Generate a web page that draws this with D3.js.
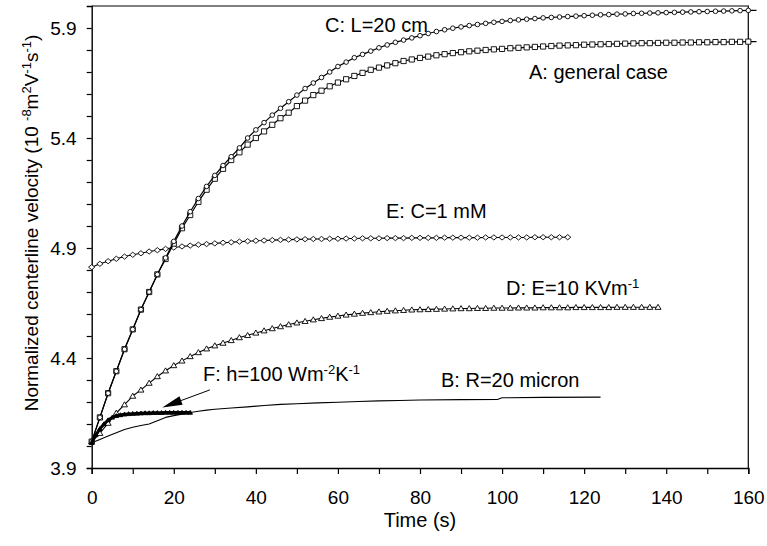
<!DOCTYPE html>
<html>
<head>
<meta charset="utf-8">
<script src="https://cdn.jsdelivr.net/npm/d3@7"></script>
<style>
  body { margin: 0; background: #fff; }
  svg { display: block; }
  text { font-family: "Liberation Sans", Arial, Helvetica, sans-serif; fill: #000; }
</style>
</head>
<body>
<svg id="chart" width="767" height="546"></svg>
<script>
// ---- data (time in s, normalized centerline velocity in 1e-8 m2/(V s)) ----
const timeAC = [0,2,4,6,8,10,12,14,16,18,20,22,24,26,28,30,32,34,36,38,40,42,44,46,48,50,52,54,56,58,60,62,64,66,68,70,72,74,76,78,80,82,84,86,88,90,92,94,96,98,100,102,104,106,108,110,112,114,116,118,120,122,124,126,128,130,132,134,136,138,140,142,144,146,148,150,152,154,156,158,160,162];
// A: general case
const seriesA = [4.02,4.13,4.24,4.34,4.44,4.53,4.62,4.70,4.78,4.85,4.92,4.99,5.05,5.11,5.165,5.215,5.26,5.30,5.335,5.37,5.40,5.43,5.46,5.49,5.515,5.545,5.57,5.595,5.615,5.635,5.652,5.667,5.682,5.696,5.71,5.72,5.73,5.74,5.75,5.757,5.764,5.77,5.776,5.781,5.786,5.79,5.794,5.797,5.80,5.803,5.805,5.808,5.81,5.812,5.814,5.816,5.818,5.82,5.821,5.822,5.824,5.825,5.826,5.827,5.828,5.829,5.83,5.831,5.831,5.832,5.833,5.833,5.834,5.834,5.835,5.835,5.836,5.836,5.837,5.837,5.838,5.838];
// C: L = 20 cm
const seriesC = [4.02,4.13,4.24,4.34,4.44,4.53,4.62,4.70,4.78,4.855,4.93,5.00,5.065,5.125,5.18,5.23,5.275,5.315,5.355,5.40,5.437,5.47,5.504,5.535,5.565,5.595,5.625,5.65,5.675,5.70,5.725,5.745,5.765,5.78,5.795,5.81,5.823,5.835,5.845,5.855,5.865,5.875,5.884,5.892,5.899,5.905,5.911,5.916,5.921,5.926,5.93,5.934,5.937,5.94,5.943,5.946,5.948,5.95,5.952,5.954,5.956,5.958,5.96,5.961,5.963,5.964,5.966,5.967,5.968,5.969,5.97,5.971,5.972,5.973,5.974,5.975,5.976,5.977,5.978,5.979,5.98,5.98];
// E: C = 1 mM
const timeE = [0,2,4,6,8,10,12,14,16,18,20,22,24,26,28,30,32,34,36,38,40,42,44,46,48,50,52,54,56,58,60,62,64,66,68,70,72,74,76,78,80,82,84,86,88,90,92,94,96,98,100,102,104,106,108,110,112,114,116];
const seriesE = [4.813,4.828,4.84,4.851,4.861,4.869,4.876,4.884,4.89,4.896,4.902,4.907,4.911,4.915,4.918,4.921,4.924,4.926,4.929,4.931,4.933,4.934,4.936,4.937,4.938,4.939,4.94,4.941,4.941,4.942,4.942,4.943,4.943,4.944,4.944,4.944,4.945,4.945,4.945,4.946,4.946,4.946,4.946,4.947,4.947,4.947,4.947,4.947,4.948,4.948,4.948,4.948,4.948,4.948,4.949,4.949,4.949,4.949,4.949];
// D: E = 10 kV/m
const timeD = [0,2,4,6,8,10,12,14,16,18,20,22,24,26,28,30,32,34,36,38,40,42,44,46,48,50,52,54,56,58,60,62,64,66,68,70,72,74,76,78,80,82,84,86,88,90,92,94,96,98,100,102,104,106,108,110,112,114,116,118,120,122,124,126,128,130,132,134,136,138];
const seriesD = [4.02,4.058,4.104,4.15,4.188,4.227,4.255,4.286,4.316,4.342,4.366,4.387,4.407,4.425,4.442,4.456,4.468,4.48,4.493,4.503,4.514,4.524,4.534,4.543,4.552,4.56,4.567,4.574,4.58,4.586,4.591,4.596,4.60,4.604,4.607,4.61,4.613,4.615,4.617,4.619,4.62,4.621,4.622,4.623,4.624,4.625,4.625,4.626,4.626,4.627,4.627,4.627,4.628,4.628,4.628,4.629,4.629,4.629,4.629,4.63,4.63,4.63,4.63,4.63,4.631,4.631,4.631,4.631,4.631,4.631];
// F: h = 100 W/(m2 K)
const timeF = [0,1,2,3,4,5,6,7,8,9,10,11,12,13,14,15,16,17,18,19,20,21,22,23,24];
const seriesF = [4.015,4.05,4.078,4.10,4.118,4.13,4.137,4.141,4.144,4.146,4.147,4.148,4.149,4.15,4.15,4.151,4.151,4.151,4.152,4.152,4.152,4.152,4.152,4.152,4.152];
// B: R = 20 micron
const timeB = [0,2,4,6,8,10,12,14,16,18,20,22,24,26,28,30,34,38,42,46,50,55,60,65,70,75,80,90,99,100,110,124];
const seriesB = [4.015,4.03,4.045,4.06,4.075,4.085,4.093,4.10,4.115,4.13,4.138,4.145,4.152,4.158,4.163,4.167,4.173,4.178,4.184,4.189,4.192,4.196,4.199,4.202,4.205,4.207,4.209,4.211,4.212,4.219,4.221,4.222];

const xTicks = [0,20,40,60,80,100,120,140,160];
const xMinorTicks = [10,30,50,70,90,110,130,150];
const yTicks = [3.9,4.4,4.9,5.4,5.9];
const yMinorTicks = [4.0,4.1,4.2,4.3,4.5,4.6,4.7,4.8,5.0,5.1,5.2,5.3,5.5,5.6,5.7,5.8];

// ---- layout ----
const W = 767, H = 546;
const plot = { left: 91.7, right: 748.3, top: 6, bottom: 468 };
const TICK_FONT = 19, LABEL_FONT = 20;

const svg = d3.select("#chart");
svg.append("rect").attr("width", W).attr("height", H).attr("fill", "#fff");

const x = d3.scaleLinear().domain([0, 160]).range([plot.left, plot.right]);
const y = d3.scaleLinear().domain([3.9, 6.0]).range([plot.bottom, plot.top]);

// frame (top and right edges)
svg.append("path")
  .attr("d", `M${plot.left},${plot.top}H${plot.right}V${plot.bottom}`)
  .attr("fill", "none").attr("stroke", "#000").attr("stroke-width", 1.2);

// axes
function styleAxis(g) {
  g.select(".domain").attr("stroke", "#000").attr("stroke-width", 1.4);
  g.selectAll(".tick line").attr("stroke", "#000").attr("stroke-width", 1.2);
  g.selectAll(".tick text").attr("font-size", TICK_FONT).attr("font-family", null).attr("fill", "#000");
}
const gx = svg.append("g").attr("transform", `translate(0,${plot.bottom})`)
  .call(d3.axisBottom(x).tickValues(xTicks).tickSize(6).tickPadding(17).tickFormat(d3.format("d")));
styleAxis(gx);
svg.append("g").attr("transform", `translate(0,${plot.bottom})`)
  .call(d3.axisBottom(x).tickValues(xMinorTicks).tickSize(6).tickFormat(""))
  .call(g => { g.select(".domain").remove(); g.selectAll("line").attr("stroke", "#000").attr("stroke-width", 1.2); });

const gy = svg.append("g").attr("transform", `translate(${plot.left},0)`)
  .call(d3.axisLeft(y).tickValues(yTicks).tickSize(5).tickPadding(10).tickFormat(d3.format(".1f")));
styleAxis(gy);
svg.append("g").attr("transform", `translate(${plot.left},0)`)
  .call(d3.axisLeft(y).tickValues(yMinorTicks).tickSize(5).tickFormat(""))
  .call(g => { g.select(".domain").remove(); g.selectAll("line").attr("stroke", "#000").attr("stroke-width", 1.2); });

// rich text helper: parts are [string, isSuperscript]
function richText(sel, parts) {
  let shifted = false;
  parts.forEach(([s, sup]) => {
    const t = sel.append("tspan").text(s);
    if (sup && !shifted) { t.attr("dy", -7).attr("font-size", 13); shifted = true; }
    else if (sup) { t.attr("font-size", 13); }
    else if (!sup && shifted) { t.attr("dy", 7); shifted = false; }
  });
  return sel;
}

// axis titles
svg.append("text").attr("x", (plot.left + plot.right) / 2).attr("y", 527)
  .attr("text-anchor", "middle").attr("font-size", LABEL_FONT).text("Time (s)");
richText(
  svg.append("text").attr("transform", "translate(38,223) rotate(-90)")
    .attr("text-anchor", "middle").attr("font-size", 19),
  [["Normalized centerline velocity (10 ", false], ["-8", true], ["m", false], ["2", true],
   ["V", false], ["-1", true], ["s", false], ["-1", true], [")", false]]
);

// ---- series ----
const line = d3.line().x(d => x(d.t)).y(d => y(d.v));
const zip = (ts, vs) => ts.map((t, i) => ({ t, v: vs[i] }));

const shapes = {
  circle: "M2.3,0A2.3,2.3 0 1,1 -2.3,0A2.3,2.3 0 1,1 2.3,0Z",
  square: "M-2.6,-2.6H2.6V2.6H-2.6Z",
  diamond: "M0,-2.6L3.1,0L0,2.6L-3.1,0Z",
  triangle: "M0,-2.9L3,2.2H-3Z",
  smallTri: "M0,-2.2L2.3,1.7H-2.3Z"
};

function drawSeries(ts, vs, opt) {
  const data = zip(ts, vs);
  const g = svg.append("g");
  g.append("path").datum(data).attr("d", line)
    .attr("fill", "none").attr("stroke", "#000")
    .attr("stroke-width", opt.width).attr("stroke-linejoin", "round");
  if (opt.shape) {
    g.selectAll("path.mk").data(data.filter(d => d.t <= 160)).join("path")
      .attr("class", "mk")
      .attr("transform", d => `translate(${x(d.t)},${y(d.v)})`)
      .attr("d", shapes[opt.shape])
      .attr("fill", opt.fill).attr("stroke", "#000").attr("stroke-width", 0.9);
  }
}

drawSeries(timeB, seriesB, { width: 1.1 });
drawSeries(timeD, seriesD, { width: 1.1, shape: "triangle", fill: "#fff" });
drawSeries(timeE, seriesE, { width: 1.1, shape: "diamond", fill: "#fff" });
drawSeries(timeAC, seriesA, { width: 1.2, shape: "square", fill: "#fff" });
drawSeries(timeAC, seriesC, { width: 1.2, shape: "circle", fill: "#fff" });
drawSeries(timeF, seriesF, { width: 3, shape: "smallTri", fill: "#000" });

// ---- annotations ----
const lab = (px, py, parts) => richText(svg.append("text").attr("x", px).attr("y", py).attr("font-size", LABEL_FONT), parts);
lab(325, 32, [["C: L=20 cm", false]]);
lab(529, 79, [["A: general case", false]]);
lab(386, 218, [["E: C=1 mM", false]]);
lab(506, 295, [["D: E=10 KVm", false], ["-1", true]]);
lab(203, 381, [["F: h=100 Wm", false], ["-2", true], ["K", false], ["-1", true]]);
lab(441, 387, [["B: R=20 micron", false]]);

// arrow pointing at curve F
const arrowFrom = { t: 28.8, v: 4.255 }, arrowTo = { t: 17.2, v: 4.175 };
const ax0 = x(arrowFrom.t), ay0 = y(arrowFrom.v), ax1 = x(arrowTo.t), ay1 = y(arrowTo.v);
const ang = Math.atan2(ay1 - ay0, ax1 - ax0);
const hl = 20, hw = 4.5;
const bx = ax1 - hl * Math.cos(ang), by = ay1 - hl * Math.sin(ang);
svg.append("line").attr("x1", ax0).attr("y1", ay0).attr("x2", bx).attr("y2", by)
  .attr("stroke", "#000").attr("stroke-width", 1);
svg.append("path")
  .attr("d", `M${ax1},${ay1}L${bx + hw * Math.sin(ang)},${by - hw * Math.cos(ang)}L${bx - hw * Math.sin(ang)},${by + hw * Math.cos(ang)}Z`)
  .attr("fill", "#000");
</script>
</body>
</html>
